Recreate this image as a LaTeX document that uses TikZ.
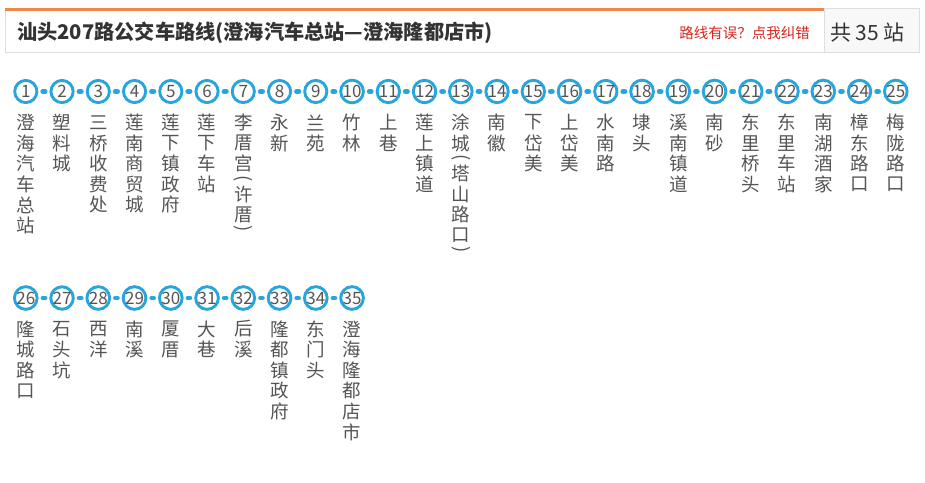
\documentclass[tikz,border=0pt]{standalone}
\usepackage{fontspec}
\newfontfamily\cjk{Noto Sans CJK SC}
\definecolor{stopblue}{HTML}{27A5DC}
\definecolor{txtgray}{HTML}{555555}
\definecolor{orangeline}{HTML}{F0884C}
\definecolor{boxgray}{HTML}{DEDEDE}
\definecolor{linkred}{HTML}{D8261E}
\definecolor{countbg}{HTML}{F8F8F8}
\definecolor{titlegray}{HTML}{333333}
\tikzset{
  stopcircle/.style={circle, draw=stopblue, line width=2.9pt, fill=white, minimum size=22.2pt, inner sep=0pt,
    font=\cjk\fontsize{17}{17}\selectfont, text=txtgray},
  link/.style={draw=stopblue, line width=4.8pt, line cap=round, shorten <=4.4pt, shorten >=4.4pt},
  namechar/.style={inner sep=0pt, font=\cjk\fontsize{18.5}{18.5}\selectfont, text=txtgray},
  vparen/.style={namechar, rotate=-90},
}
\newcommand\vname[4]{% #1 prefix, #2 x, #3 y of first char, #4 comma list
  \foreach \ch [count=\k] in {#4}
    \node[namechar] (#1c\k) at (#2, {#3+(\k-1)*20.6}) {\ch};
}
\begin{document}
\begin{tikzpicture}[x=1pt,y=-1pt]
\useasboundingbox (0,0) rectangle (925,482);
% header
\draw[boxgray, line width=1pt] (5.5,9) -- (5.5,52) -- (824.5,52);
\draw[orangeline, line width=3pt] (5,9.5) -- (824,9.5);
\filldraw[fill=countbg, draw=boxgray, line width=1pt] (824.5,8.5) rectangle (919.5,52);
\node[anchor=west, inner sep=0pt, font=\cjk\bfseries\fontsize{20.2}{20.2}\selectfont, text=titlegray] (title) at (17,33)
  {汕头207路公交车路线(澄海汽车总站—澄海隆都店市)};
\node[anchor=east, inner sep=0pt, font=\cjk\fontsize{14.5}{14.5}\selectfont, text=linkred] (fix) at (810,33)
  {路线有误？点我纠错};
\node[inner sep=0pt, font=\cjk\fontsize{21}{21}\selectfont, text=titlegray] (count) at (867.5,33) {共 35 站};
% stops
\foreach \i in {1,...,25}
  \node[stopcircle] (s\i) at ({25.8+(\i-1)*36.25}, 91.5) {\i};
\foreach \i in {26,...,35}
  \node[stopcircle] (s\i) at ({25.8+(\i-26)*36.25}, 298) {\i};
\foreach \i [evaluate=\i as \j using int(\i+1)] in {1,...,24}
  \draw[link] (s\i) -- (s\j);
\foreach \i [evaluate=\i as \j using int(\i+1)] in {26,...,34}
  \draw[link] (s\i) -- (s\j);
% names row 1
\def\ya{122.5}
\vname{n1}{25.8}{\ya}{澄,海,汽,车,总,站}
\vname{n2}{62.05}{\ya}{塑,料,城}
\vname{n3}{98.3}{\ya}{三,桥,收,费,处}
\vname{n4}{134.55}{\ya}{莲,南,商,贸,城}
\vname{n5}{170.8}{\ya}{莲,下,镇,政,府}
\vname{n6}{207.05}{\ya}{莲,下,车,站}
% stop 7 with parentheses
\node[namechar] (n7c1) at (243.3,122.5) {李};
\node[namechar] (n7c2) at (243.3,143.1) {厝};
\node[namechar] (n7c3) at (243.3,163.7) {宫};
\node[vparen]   (n7c4) at (243.3,178.5) {(};
\node[namechar] (n7c5) at (243.3,194) {许};
\node[namechar] (n7c6) at (243.3,214.6) {厝};
\node[vparen]   (n7c7) at (243.3,229) {)};
\vname{n8}{279.55}{\ya}{永,新}
\vname{n9}{315.8}{\ya}{兰,苑}
\vname{n10}{352.05}{\ya}{竹,林}
\vname{n11}{388.3}{\ya}{上,巷}
\vname{n12}{424.55}{\ya}{莲,上,镇,道}
% stop 13 with parentheses
\node[namechar] (n13c1) at (460.8,122.5) {涂};
\node[namechar] (n13c2) at (460.8,143.1) {城};
\node[vparen]   (n13c3) at (460.8,158) {(};
\node[namechar] (n13c4) at (460.8,173.5) {塔};
\node[namechar] (n13c5) at (460.8,194.1) {山};
\node[namechar] (n13c6) at (460.8,214.7) {路};
\node[namechar] (n13c7) at (460.8,235.3) {口};
\node[vparen]   (n13c8) at (460.8,249.5) {)};
\vname{n14}{497.05}{\ya}{南,徽}
\vname{n15}{533.3}{\ya}{下,岱,美}
\vname{n16}{569.55}{\ya}{上,岱,美}
\vname{n17}{605.8}{\ya}{水,南,路}
\vname{n18}{642.05}{\ya}{埭,头}
\vname{n19}{678.3}{\ya}{溪,南,镇,道}
\vname{n20}{714.55}{\ya}{南,砂}
\vname{n21}{750.8}{\ya}{东,里,桥,头}
\vname{n22}{787.05}{\ya}{东,里,车,站}
\vname{n23}{823.3}{\ya}{南,湖,酒,家}
\vname{n24}{859.55}{\ya}{樟,东,路,口}
\vname{n25}{895.8}{\ya}{梅,陇,路,口}
% names row 2
\def\yb{329}
\vname{n26}{25.8}{\yb}{隆,城,路,口}
\vname{n27}{62.05}{\yb}{石,头,坑}
\vname{n28}{98.3}{\yb}{西,洋}
\vname{n29}{134.55}{\yb}{南,溪}
\vname{n30}{170.8}{\yb}{厦,厝}
\vname{n31}{207.05}{\yb}{大,巷}
\vname{n32}{243.3}{\yb}{后,溪}
\vname{n33}{279.55}{\yb}{隆,都,镇,政,府}
\vname{n34}{315.8}{\yb}{东,门,头}
\vname{n35}{352.05}{\yb}{澄,海,隆,都,店,市}
\end{tikzpicture}
\end{document}
